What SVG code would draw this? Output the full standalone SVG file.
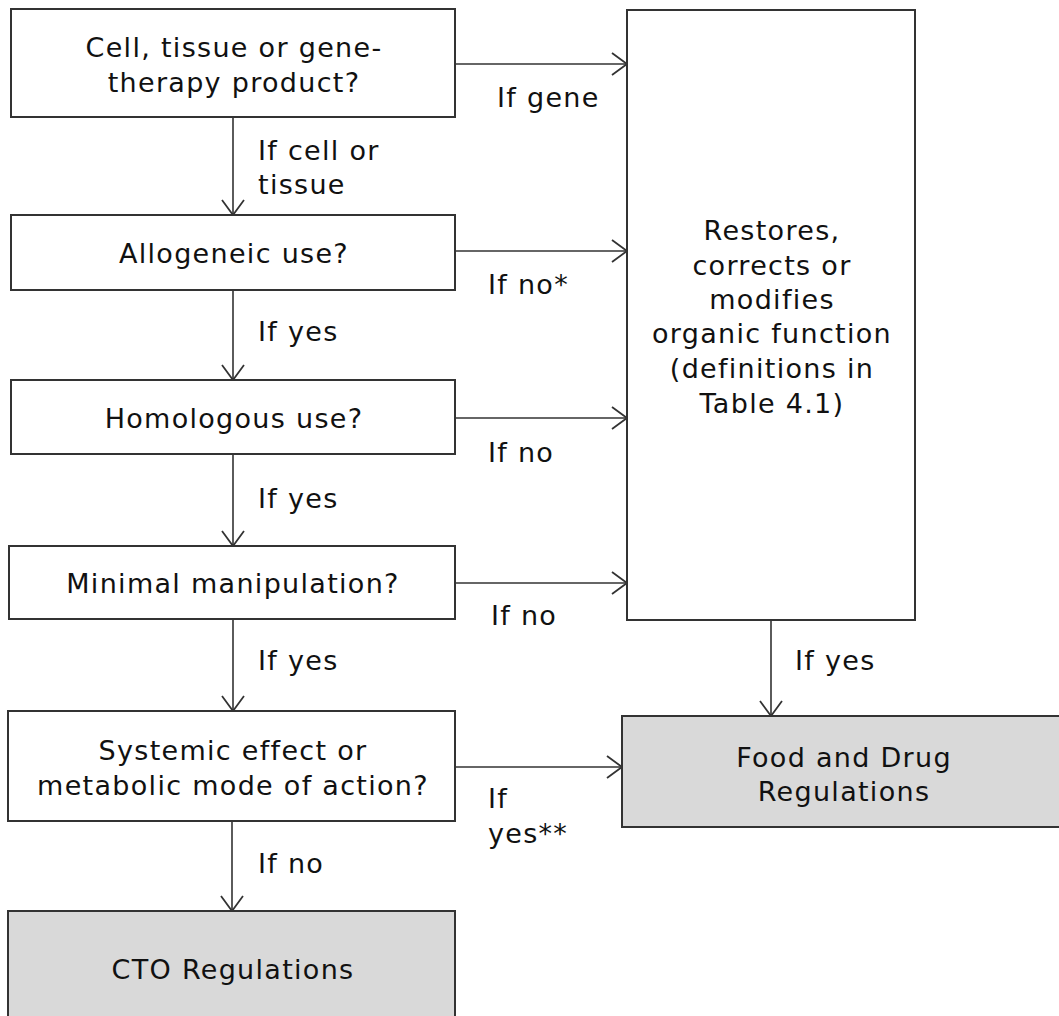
<svg xmlns="http://www.w3.org/2000/svg" width="1059" height="1016" viewBox="0 0 1059 1016">
  <style>
    .box { fill: #ffffff; stroke: #333333; stroke-width: 2; }
    .final { fill: #d9d9d9; stroke: #333333; stroke-width: 2; }
    .t { font-family: "DejaVu Sans", Verdana, sans-serif; font-size: 27px; letter-spacing: 1.3px; fill: #111111; }
    .c { text-anchor: middle; }
    .edge { stroke: #333333; stroke-width: 1.6; fill: none; marker-end: url(#chev); }
  </style>
  <defs>
    <!-- open chevron arrowhead shared by every connector -->
    <marker id="chev" markerWidth="18" markerHeight="24" refX="16" refY="12" orient="auto" markerUnits="userSpaceOnUse">
      <path d="M1,1 L16,12 L1,23" fill="none" stroke="#333333" stroke-width="1.8"/>
    </marker>
  </defs>
  <rect width="1059" height="1016" fill="#ffffff"/>

  <g id="connectors">
    <line class="edge" x1="455" y1="64" x2="627" y2="64"/>
    <line class="edge" x1="233" y1="117" x2="233" y2="215"/>
    <line class="edge" x1="455" y1="251" x2="627" y2="251"/>
    <line class="edge" x1="233" y1="290" x2="233" y2="380"/>
    <line class="edge" x1="455" y1="418" x2="627" y2="418"/>
    <line class="edge" x1="233" y1="454" x2="233" y2="546"/>
    <line class="edge" x1="455" y1="583" x2="627" y2="583"/>
    <line class="edge" x1="233" y1="619" x2="233" y2="711"/>
    <line class="edge" x1="455" y1="767" x2="622" y2="767"/>
    <line class="edge" x1="232" y1="821" x2="232" y2="911"/>
    <line class="edge" x1="771" y1="620" x2="771" y2="716"/>
    <text class="t" x="497" y="107">If gene</text>
    <text class="t" x="258" y="160">If cell or</text>
    <text class="t" x="258" y="194">tissue</text>
    <text class="t" x="488" y="294">If no*</text>
    <text class="t" x="258" y="341">If yes</text>
    <text class="t" x="488" y="462">If no</text>
    <text class="t" x="258" y="508">If yes</text>
    <text class="t" x="491" y="625">If no</text>
    <text class="t" x="258" y="670">If yes</text>
    <text class="t" x="488" y="808">If</text>
    <text class="t" x="488" y="843">yes**</text>
    <text class="t" x="258" y="873">If no</text>
    <text class="t" x="795" y="670">If yes</text>
  </g>

  <g id="n-product">
    <rect class="box" x="11" y="9" width="444" height="108"/>
    <text class="t c" x="234" y="57">Cell, tissue or gene-</text>
    <text class="t c" x="234" y="92">therapy product?</text>
  </g>
  <g id="n-allogeneic">
    <rect class="box" x="11" y="215" width="444" height="75"/>
    <text class="t c" x="234" y="263">Allogeneic use?</text>
  </g>
  <g id="n-homologous">
    <rect class="box" x="11" y="380" width="444" height="74"/>
    <text class="t c" x="234" y="428">Homologous use?</text>
  </g>
  <g id="n-minimal">
    <rect class="box" x="9" y="546" width="446" height="73"/>
    <text class="t c" x="233" y="593">Minimal manipulation?</text>
  </g>
  <g id="n-systemic">
    <rect class="box" x="8" y="711" width="447" height="110"/>
    <text class="t c" x="233" y="760">Systemic effect or</text>
    <text class="t c" x="233" y="795">metabolic mode of action?</text>
  </g>
  <g id="n-cto">
    <rect class="final" x="8" y="911" width="447" height="120"/>
    <text class="t c" x="233" y="979">CTO Regulations</text>
  </g>
  <g id="n-restores">
    <rect class="box" x="627" y="10" width="288" height="610"/>
    <text class="t c" x="772" y="240">Restores,</text>
    <text class="t c" x="772" y="275">corrects or</text>
    <text class="t c" x="772" y="309">modifies</text>
    <text class="t c" x="772" y="343">organic function</text>
    <text class="t c" x="772" y="378">(definitions in</text>
    <text class="t c" x="772" y="413">Table 4.1)</text>
  </g>
  <g id="n-fdr">
    <rect class="final" x="622" y="716" width="460" height="111"/>
    <text class="t c" x="844" y="767">Food and Drug</text>
    <text class="t c" x="844" y="801">Regulations</text>
  </g>
</svg>
